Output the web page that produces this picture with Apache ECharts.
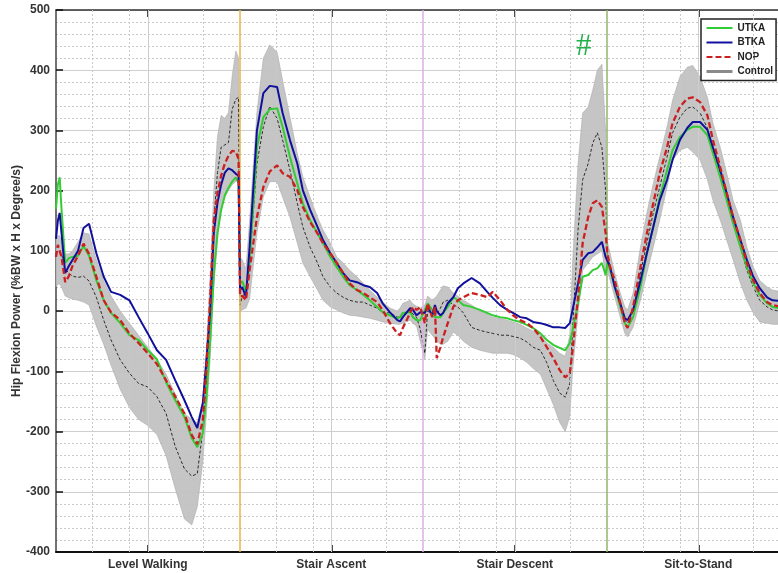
<!DOCTYPE html>
<html><head><meta charset="utf-8">
<script src="https://cdn.jsdelivr.net/npm/echarts@6/dist/echarts.min.js"></script>
<style>html,body{margin:0;padding:0;background:#fff;}#c{width:778px;height:573px;}</style>
</head><body><div id="c"></div>
<script>
// x positions (% of each task cycle, 4 tasks laid end to end: 0-100, 100-200, 200-300, 300-400)
const phase = [
 0,1,2,3,5,7,9,12,15,18,22,26,30,35,40,45,50,55,60,65,70,74,77,80,82,84,86,88,90,92,94,96,98,99.5,
 100.3,101.5,103.5,105.5,109.5,113,116.5,120.5,123.5,127.5,131.5,134.5,138.5,142.5,145.5,149.5,153,156.5,160,164,167.5,171,175,178,182,186,187.5,189,193,194.5,196.5,198.5,
 201,202.5,205,206.5,207.5,209.5,211,213.5,216.5,219,222,226.5,231,235,238,242,246,249,253,256.5,260,264,267.5,271,274.5,277.5,280,281.5,284.5,287,290,292.5,295,297.5,299.5,
 300.5,302,304.5,307.5,310,311.5,314.5,318.5,322,325.5,329,333,336,340,344,347,351,355,358,362,365.5,369,373,376.5,380,383.5,387.5,390.5,394
];
const utka = [
 170,210,222,170,80,88,90,92,108,92,51,18,-3,-20,-40,-48,-65,-80,-118,-148,-176,-211,-226,-203,-143,-50,60,130,168,192,205,215,222,212,
 45,50,32,80,272,322,335,337,306,256,212,179,151,129,113,90,73,57,43,35,27,18,7,-2,-7,-12,-10,-3,-2,-10,-15,-15,
 2,13,2,-10,-10,-10,-3,7,23,18,10,7,2,-3,-7,-10,-12,-15,-18,-23,-28,-37,-48,-56,-61,-65,-53,-32,13,57,60,68,71,80,60,
 80,68,40,7,-20,-27,-10,40,96,140,189,234,267,289,301,306,306,292,262,222,184,146,106,73,46,27,13,7,5
];
const btka = [
 120,150,163,130,63,75,85,100,138,145,96,57,32,27,18,-10,-37,-65,-81,-115,-148,-176,-194,-153,-81,0,130,180,210,230,237,234,228,225,
 35,40,23,106,300,362,374,372,329,284,245,201,168,140,118,96,80,63,51,48,43,40,30,13,-2,-15,-17,-10,5,2,-7,-2,
 -3,7,-7,10,0,-7,-3,13,23,38,46,55,46,32,22,10,2,-3,-10,-12,-18,-20,-23,-27,-27,-28,-20,2,46,85,96,98,106,115,90,
 90,73,40,13,-12,-15,2,51,96,140,184,218,251,284,304,314,314,301,272,234,196,156,118,85,57,38,23,18,17
];
const nop = [
 90,110,113,90,48,58,75,92,112,95,57,18,-2,-15,-37,-53,-70,-88,-115,-142,-170,-206,-221,-181,-93,20,150,195,225,245,258,266,265,252,
 25,25,18,68,156,206,232,242,229,223,201,173,148,129,113,96,80,63,46,35,30,23,15,2,-20,-37,-40,-28,-3,7,2,7,
 -20,13,-10,7,-78,-60,-43,-20,7,18,23,30,27,23,32,18,2,-7,-15,-20,-28,-43,-60,-78,-98,-110,-103,-65,23,113,156,179,184,173,130,
 95,73,51,13,-20,-28,7,73,129,179,229,272,312,339,353,355,347,325,284,239,196,156,118,80,51,30,15,10,8
];
const control = [
 95,100,100,95,70,63,58,56,58,50,23,-15,-48,-81,-103,-120,-126,-142,-170,-225,-262,-274,-270,-198,-115,10,150,230,272,276,280,335,352,355,
 10,25,30,80,245,306,340,320,284,234,179,140,106,80,57,40,30,23,18,15,15,10,5,-2,-3,-10,-10,-5,2,-5,-10,-30,
 -70,0,-5,0,-5,5,15,18,10,7,-3,-27,-32,-35,-37,-40,-40,-42,-45,-51,-60,-65,-86,-115,-136,-143,-120,-32,135,218,245,279,296,272,200,
 95,72,45,10,-15,-20,0,63,113,163,206,256,296,322,337,339,329,304,267,229,184,146,106,68,40,18,7,2,0
];
const controlUpper = [
 120,125,125,115,95,95,100,115,130,128,85,50,25,0,-20,-40,-60,-80,-105,-138,-170,-180,-185,-150,-60,60,200,290,325,320,330,390,432,420,
 90,85,70,150,330,420,442,430,383,322,262,223,189,156,135,113,90,80,68,57,46,35,23,15,5,0,5,13,18,12,8,5,
 10,25,18,22,25,35,42,40,30,25,18,10,0,-5,-10,-12,-15,-18,-22,-28,-33,-40,-53,-60,-70,-75,-40,80,245,329,339,367,400,410,300,
 115,96,63,30,7,2,30,106,163,212,256,306,350,389,405,408,389,355,312,272,229,184,151,106,73,51,40,35,33
];
const controlLower = [
 40,45,45,40,25,22,20,18,15,10,-25,-55,-90,-130,-160,-180,-190,-205,-240,-295,-345,-355,-325,-250,-170,-80,40,120,170,190,200,210,215,220,
 0,2,5,20,130,190,215,215,189,156,113,80,57,35,18,7,2,-3,-7,-8,-10,-12,-15,-18,-20,-22,-22,-20,-15,-20,-25,-50,
 -80,-30,-40,-45,-50,-55,-55,-50,-35,-40,-50,-60,-65,-68,-70,-70,-70,-72,-78,-85,-95,-105,-130,-155,-185,-200,-175,-100,-3,68,80,90,95,100,60,
 70,51,23,-10,-37,-43,-27,18,63,106,151,206,251,267,272,264,251,218,184,151,118,85,46,18,-3,-18,-20,-22,-22
];
const taskNames = ['Level Walking','Stair Ascent','Stair Descent','Sit-to-Stand'];
const taskCenters = [50,150,250,350];
const taskBounds = [100,200,300];
const minorX = [20,40,80,120,140,180,220,240,280,320,340,380];
const yTicks = {min:-400, max:500, step:100};

const pts = ys => phase.map((x,i)=>[x, ys[i]]);
const boundColors = ['#e6b54a','#dcaee6','#93b56c'];
const FONT = 'Liberation Sans, Arial, sans-serif';

const chart = echarts.init(document.getElementById('c'), null, {renderer:'canvas'});
const option = {
  animation:false,
  backgroundColor:'#fff',
  grid:{left:56, top:10, width:734, height:542, containLabel:false, outerBoundsMode:'none'},
  xAxis:[{
    type:'value', min:0, max:400, interval:50, position:'bottom',
    axisLine:{show:true, onZero:false, lineStyle:{color:'#111', width:2}},
    axisTick:{show:true, inside:true, length:7, customValues:taskCenters, lineStyle:{color:'#111', width:1.5}},
    axisLabel:{customValues:taskCenters, formatter:v=>taskNames[taskCenters.indexOf(v)]||'', fontFamily:FONT, fontWeight:'bold', fontSize:12, color:'#333', margin:7},
    splitLine:{show:false}
  },{
    type:'value', min:0, max:400, interval:50, position:'top',
    axisLine:{show:true, onZero:false, lineStyle:{color:'#333', width:1.5}},
    axisTick:{show:true, inside:true, length:7, customValues:taskCenters, lineStyle:{color:'#111', width:1.5}},
    axisLabel:{show:false}, splitLine:{show:false}
  }],
  yAxis:{
    type:'value', min:yTicks.min, max:yTicks.max, interval:yTicks.step,
    name:'Hip Flexion Power (%BW x H x Degree/s)', nameLocation:'middle', nameGap:33, nameMoveOverlap:false,
    nameTextStyle:{fontFamily:FONT, fontWeight:'bold', fontSize:12, color:'#333'},
    axisLine:{show:true, onZero:false, lineStyle:{color:'#444', width:1.5}},
    axisTick:{show:true, inside:true, length:7, lineStyle:{color:'#111', width:1.5}},
    axisLabel:{fontFamily:FONT, fontWeight:'bold', fontSize:12, color:'#333', margin:6},
    splitLine:{show:true, lineStyle:{color:'#cfcfcf', width:1}},
    minorTick:{show:false, splitNumber:5},
    minorSplitLine:{show:true, lineStyle:{color:'#c9c9c9', width:1, type:[2,2]}}
  },
  legend:{
    left:701, top:19, orient:'vertical', itemWidth:26, itemHeight:10, itemGap:4.5,
    padding:[4,3,4,4], borderColor:'#222', borderWidth:1.5, backgroundColor:'#fff', borderRadius:0,
    itemStyle:{opacity:0},
    textStyle:{fontFamily:FONT, fontWeight:'bold', fontSize:10, color:'#222'},
    data:[
      {name:'UTKA'},{name:'BTKA'},{name:'NOP'},
      {name:'Control', lineStyle:{color:'#8a8a8a', width:3, type:'solid'}}
    ]
  },
  graphic:[{type:'text', left:576, top:31, style:{text:'#', font:'31px "Liberation Serif", serif', fill:'#22b24c'}}],
  series:[
    { // grid helper lines
      type:'line', data:[], z:1, silent:true,
      markLine:{silent:true, symbol:['none','none'], label:{show:false}, animation:false,
        data:[].concat(
          taskCenters.map(v=>({xAxis:v, lineStyle:{color:'#cdcdcd', width:1, type:'solid'}})),
          minorX.map(v=>({xAxis:v, lineStyle:{color:'#c9c9c9', width:1, type:[2,2]}}))
        )}
    },
    { // control mean +/- SD band
      type:'custom', name:'band', silent:true, z:2, data:[[phase[0], controlLower[0]]],
      renderItem:(params, api)=>{
        const upperPts = phase.map((x,i)=>api.coord([x, controlUpper[i]]));
        const lowerPts = phase.map((x,i)=>api.coord([x, controlLower[i]])).reverse();
        return {type:'polygon', shape:{points:upperPts.concat(lowerPts)},
          style:{fill:'#c2c2c2', stroke:'#a9a9a9', lineWidth:0.6, opacity:0.95}};
      }
    },
    { // task boundaries
      type:'line', data:[], z:3, silent:true,
      markLine:{silent:true, symbol:['none','none'], label:{show:false}, animation:false,
        data: taskBounds.map((v,i)=>({xAxis:v, lineStyle:{color:boundColors[i], width:1.5, type:'solid'}}))}
    },
    {name:'Control', type:'line', data:pts(control), symbol:'none', z:4,
      lineStyle:{color:'#1a1a1a', width:0.9, type:[3,2]}, itemStyle:{color:'#1a1a1a'}},
    {name:'UTKA', type:'line', data:pts(utka), symbol:'none', z:5,
      lineStyle:{color:'#33cc33', width:2}, itemStyle:{color:'#33cc33'}},
    {name:'BTKA', type:'line', data:pts(btka), symbol:'none', z:6,
      lineStyle:{color:'#10109c', width:2}, itemStyle:{color:'#10109c'}},
    {name:'NOP', type:'line', data:pts(nop), symbol:'none', z:7,
      lineStyle:{color:'#cc2020', width:2.3, type:[6,3]}, itemStyle:{color:'#cc2020'}}
  ]
};
chart.setOption(option);
</script></body></html>
